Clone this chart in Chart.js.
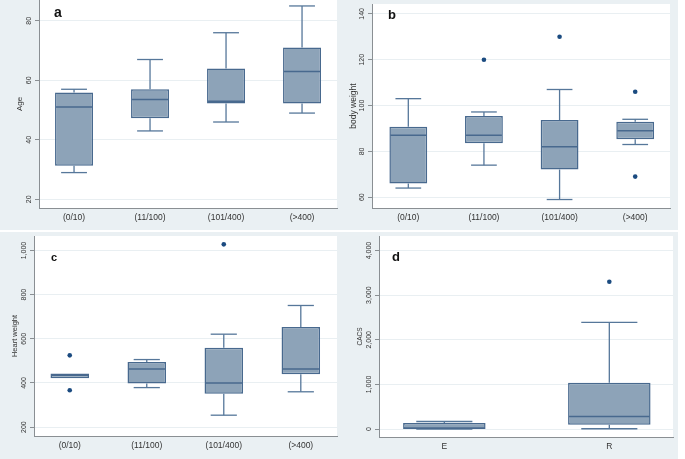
<!DOCTYPE html>
<html>
<head>
<meta charset="utf-8">
<script src="https://cdn.jsdelivr.net/npm/chart.js@4.4.1/dist/chart.umd.min.js"></script>
<style>
    body { margin: 0; width: 685px; height: 459px; position: relative; overflow: hidden; background: #ffffff; font-family: "Liberation Sans", Arial, sans-serif; }
    .panel { position: absolute; background: #eaf0f3; }
    .panel canvas { position: absolute; left: 0; top: 0; }
    .tag { position: absolute; font-weight: bold; color: #111; }
</style>
</head>
<body>
<div class="panel" style="left:0;top:0;width:342px;height:230px"><canvas id="ageChart" width="342" height="230"></canvas></div>
<div class="panel" style="left:342px;top:0;width:336px;height:230px"><canvas id="bodyChart" width="336" height="230"></canvas></div>
<div class="panel" style="left:0;top:232px;width:342px;height:227px"><canvas id="heartChart" width="342" height="227"></canvas></div>
<div class="panel" style="left:342px;top:232px;width:336px;height:227px"><canvas id="cacsChart" width="336" height="227"></canvas></div>
<div class="tag" style="left:54px;top:5px;font-size:14px;line-height:14px">a</div>
<div class="tag" style="left:388px;top:8px;font-size:13px;line-height:13px">b</div>
<div class="tag" style="left:51px;top:252px;font-size:11px;line-height:11px">c</div>
<div class="tag" style="left:392px;top:250px;font-size:13px;line-height:13px">d</div>
<script>
// กลุ่มตาม CACS
const groups = ['(0/10)', '(11/100)', '(101/400)', '(>400)'];

// a - Age
const ageTicks = [20, 40, 60, 80];
const ageMin = [29, 43, 46, 49];
const ageQ1 = [31.3, 47.3, 52.2, 52.2];
const ageMedian = [51, 53.6, 53, 63];
const ageQ3 = [55.9, 57, 64, 71];
const ageMax = [57, 67, 76, 85];
const ageOutliers = [[], [], [], []];

// b - body weight
const bodyTicks = [60, 80, 100, 120, 140];
const bodyMin = [64, 74, 59, 83];
const bodyQ1 = [66, 83.6, 72.1, 85.3];
const bodyMedian = [87, 87, 82, 89];
const bodyQ3 = [90.8, 95.4, 93.7, 92.9];
const bodyMax = [103, 97.2, 107, 94];
const bodyOutliers = [[], [120], [130], [106, 69]];

// c - Heart weight
const heartTicks = [200, 400, 600, 800, 1000];
const heartMin = [421, 379, 254, 360];
const heartQ1 = [421, 398, 351, 440];
const heartMedian = [435, 463, 400, 463];
const heartQ3 = [443, 495, 560, 654];
const heartMax = [443, 506, 621, 751];
const heartOutliers = [[525, 367], [], [1028], []];

// d - CACS
const cacsGroups = ['E', 'R'];
const cacsTicks = [0, 1000, 2000, 3000, 4000];
const cacsMin = [0, 8];
const cacsQ1 = [5, 96];
const cacsMedian = [25, 280];
const cacsQ3 = [135, 1040];
const cacsMax = [170, 2391];
const cacsOutliers = [[], [3300]];

// สี
const boxFill = '#8da3b8';
const boxLine = '#48698e';
const whiskerColor = '#56779a';
const dotColor = '#1b4b80';
const axisColor = '#8a8f93';
const gridColor = '#e9eff2';
const textColor = '#333333';

// plugin วาดพื้นขาว, หนวด, มัธยฐาน และป้ายแกน y
function boxPlugin(stats, yTicks) {
    return {
        id: 'boxLines',
        beforeDraw(chart) {
            const {ctx, chartArea: a} = chart;
            ctx.save();
            ctx.fillStyle = '#ffffff';
            ctx.fillRect(a.left, a.top, a.right - a.left, a.bottom - a.top);
            ctx.restore();
        },
        afterDatasetsDraw(chart) {
            const {ctx, chartArea: a} = chart;
            const xs = chart.scales.x;
            const ys = chart.scales.y;
            ctx.save();
            stats.median.forEach((m, i) => {
                const cx = xs.getPixelForValue(i + 1);
                const capHalf = xs.getPixelForValue(i + 1 + 0.17) - cx;
                const boxHalf = xs.getPixelForValue(i + 1 + 0.25) - cx;
                ctx.strokeStyle = whiskerColor;
                ctx.lineWidth = 1.3;
                [[stats.min[i], stats.q1[i]], [stats.q3[i], stats.max[i]]].forEach(([from, to]) => {
                    if (from === to) return;
                    const y1 = ys.getPixelForValue(from);
                    const y2 = ys.getPixelForValue(to);
                    ctx.beginPath();
                    ctx.moveTo(cx, y1);
                    ctx.lineTo(cx, y2);
                    ctx.stroke();
                });
                [[stats.min[i], stats.q1[i]], [stats.max[i], stats.q3[i]]].forEach(([end, edge]) => {
                    if (end === edge) return;
                    const y = ys.getPixelForValue(end);
                    ctx.beginPath();
                    ctx.moveTo(cx - capHalf, y);
                    ctx.lineTo(cx + capHalf, y);
                    ctx.stroke();
                });
                const my = ys.getPixelForValue(m);
                ctx.strokeStyle = boxLine;
                ctx.lineWidth = 1.5;
                ctx.beginPath();
                ctx.moveTo(cx - boxHalf + 1, my);
                ctx.lineTo(cx + boxHalf - 1, my);
                ctx.stroke();
            });
            // ป้ายแกน y หมุนแนวตั้ง
            ctx.fillStyle = textColor;
            ctx.font = '7px "Liberation Sans", Arial, sans-serif';
            ctx.textAlign = 'center';
            ctx.textBaseline = 'middle';
            yTicks.forEach(v => {
                ctx.save();
                ctx.translate(a.left - 9.5, ys.getPixelForValue(v));
                ctx.rotate(-Math.PI / 2);
                ctx.fillText(v.toLocaleString('en-US'), 0, 0);
                ctx.restore();
            });
            ctx.restore();
        }
    };
}

// สร้างกราฟกล่อง
function createBoxChart(id, labels, stats, outliers, yTicks, yTitle, layout) {
    const ctx = document.getElementById(id);
    if (!ctx) return;

    const points = [];
    outliers.forEach((list, i) => list.forEach(v => points.push({x: i + 1, y: v})));

    new Chart(ctx, {
        type: 'bar',
        data: {
            datasets: [{
                data: stats.q1.map((q, i) => ({x: i + 1, y: [q, stats.q3[i]]})),
                backgroundColor: boxFill,
                borderColor: boxLine,
                borderWidth: 1.5,
                borderSkipped: false,
                barPercentage: 0.5,
                categoryPercentage: 1
            }, {
                type: 'scatter',
                data: points,
                pointRadius: 2.3,
                backgroundColor: dotColor,
                borderWidth: 0
            }]
        },
        options: {
            responsive: false,
            animation: false,
            layout: {padding: {top: layout.top, right: layout.right, left: 0, bottom: 0}},
            plugins: {legend: {display: false}, tooltip: {enabled: false}},
            scales: {
                x: {
                    type: 'linear',
                    offset: false,
                    min: layout.xMin,
                    max: layout.xMax,
                    afterBuildTicks: s => { s.ticks = labels.map((l, i) => ({value: i + 1})); },
                    afterFit: s => { s.height = layout.xHeight; },
                    grid: {display: false, drawTicks: false},
                    border: {color: axisColor, width: 1},
                    ticks: {
                        padding: 5,
                        maxRotation: 0,
                        autoSkip: false,
                        color: textColor,
                        font: {family: '"Liberation Sans", Arial, sans-serif', size: 8.5},
                        callback: v => labels[v - 1] || ''
                    }
                },
                y: {
                    min: layout.yMin,
                    max: layout.yMax,
                    afterBuildTicks: s => { s.ticks = yTicks.map(v => ({value: v})); },
                    afterFit: s => { s.width = layout.yWidth; },
                    grid: {color: gridColor, tickColor: axisColor, tickLength: 4},
                    border: {color: axisColor, width: 1},
                    ticks: {display: false},
                    title: {
                        display: true,
                        text: yTitle,
                        color: textColor,
                        padding: {top: layout.titlePad, bottom: 0},
                        font: {family: '"Liberation Sans", Arial, sans-serif', size: layout.titleSize, lineHeight: 1}
                    }
                }
            }
        },
        plugins: [boxPlugin(stats, yTicks)]
    });
}

createBoxChart('ageChart', groups,
    {min: ageMin, q1: ageQ1, median: ageMedian, q3: ageQ3, max: ageMax},
    ageOutliers, ageTicks, 'Age',
    {top: 0, right: 5, xHeight: 22, yWidth: 39, xMin: 0.539, xMax: 4.46, yMin: 17.1, yMax: 87, titlePad: 16, titleSize: 8});

createBoxChart('bodyChart', groups,
    {min: bodyMin, q1: bodyQ1, median: bodyMedian, q3: bodyQ3, max: bodyMax},
    bodyOutliers, bodyTicks, 'body weight',
    {top: 0, right: 8, xHeight: 22, yWidth: 30, xMin: 0.52, xMax: 4.46, yMin: 55.3, yMax: 144.3, titlePad: 7.5, titleSize: 8.5});

createBoxChart('heartChart', groups,
    {min: heartMin, q1: heartQ1, median: heartMedian, q3: heartQ3, max: heartMax},
    heartOutliers, heartTicks, 'Heart weight',
    {top: 2, right: 5, xHeight: 23, yWidth: 34, xMin: 0.536, xMax: 4.47, yMin: 159.7, yMax: 1065.8, titlePad: 11.5, titleSize: 7.5});

createBoxChart('cacsChart', cacsGroups,
    {min: cacsMin, q1: cacsQ1, median: cacsMedian, q3: cacsQ3, max: cacsMax},
    cacsOutliers, cacsTicks, 'CACS',
    {top: 2, right: 5, xHeight: 22, yWidth: 37, xMin: 0.604, xMax: 2.386, yMin: -177, yMax: 4325.6, titlePad: 14.7, titleSize: 6.5});
</script>
</body>
</html>
